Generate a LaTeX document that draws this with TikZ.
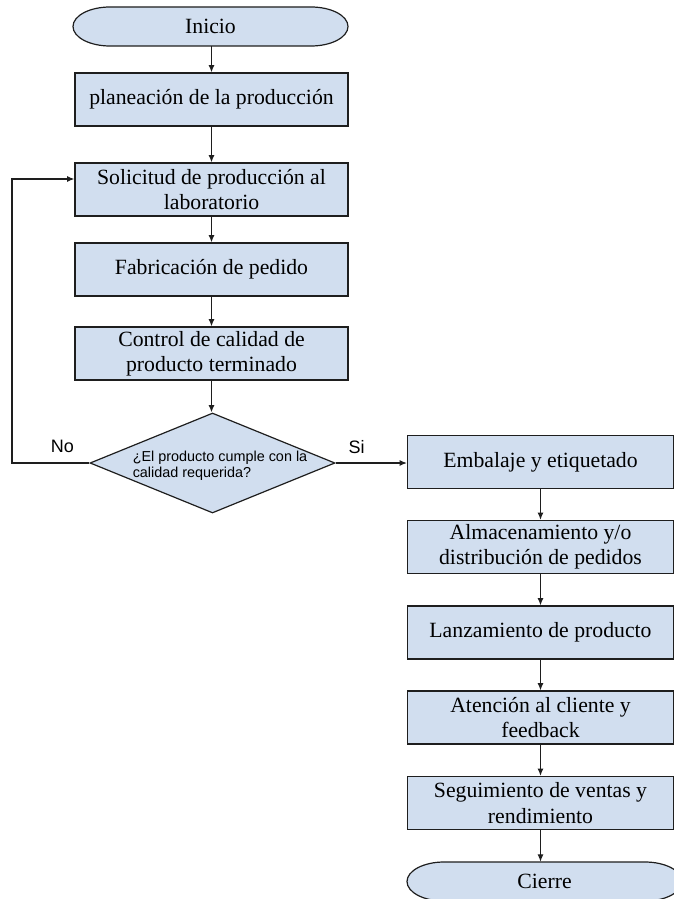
\documentclass[tikz,border=0pt]{standalone}
\usepackage{fontspec}
\setmainfont{Liberation Serif}
\newfontfamily\arialf{Liberation Sans}
\usetikzlibrary{shapes.geometric,arrows.meta,calc}
\definecolor{boxfill}{RGB}{209,222,239}
\definecolor{edge}{RGB}{30,30,30}
\tikzset{
  x=0.75pt, y=-0.75pt,
  stepbox/.style={draw=edge, fill=boxfill, line width=0.9pt, rectangle, inner sep=0pt,
     minimum height=39.75pt, align=center, font=\fontsize{16.3}{19}\selectfont},
  leftbox/.style={stepbox, minimum width=204.75pt},
  rightbox/.style={stepbox, minimum width=199.5pt},
  termtext/.style={inner sep=0pt, minimum height=29.25pt, minimum width=206.25pt,
     font=\fontsize{16.3}{19}\selectfont},
  termshape/.style={draw=edge, fill=boxfill, line width=0.9pt},
  decision/.style={draw=edge, fill=boxfill, line width=0.9pt, diamond, inner sep=0pt,
     minimum width=183.75pt, minimum height=75pt},
  arr/.style={draw=edge, line width=0.85pt, -{Latex[length=5.5pt,width=4.5pt]}},
  lbl/.style={font=\arialf\fontsize{13.5}{16}\selectfont, inner sep=0pt}
}
\begin{document}
\begin{tikzpicture}
\useasboundingbox (0,0) rectangle (674,899);
\clip (0,0) rectangle (674,899);
\fill[white] (0,0) rectangle (674,899);

% Inicio terminal
\path[termshape] (110,7) -- (311,7)
  arc[start angle=90, end angle=-90, x radius=27.75pt, y radius=14.625pt]
  -- (110,46)
  arc[start angle=270, end angle=90, x radius=27.75pt, y radius=14.625pt] -- cycle;
\node[termtext] (ini) at (210.5,26.5) {Inicio};

% left column
\node[leftbox] (plan) at (211.5,99.5) {planeación de la producción};
\node[leftbox] (sol)  at (211.5,189.5) {Solicitud de producción al\\laboratorio};
\node[leftbox] (fab)  at (211.5,269.5) {Fabricación de pedido};
\node[leftbox] (ctrl) at (211.5,353.5) {Control de calidad de\\producto terminado};

% decision
\node[decision] (dia) at (212.5,463) {};
\node[inner sep=0pt, align=left, font=\arialf\fontsize{10.8}{12}\selectfont] (dtext) at (220,466)
  {¿El producto cumple con la\\calidad requerida?};

% right column
\node[rightbox] (emb) at (540.5,462) {Embalaje y etiquetado};
\node[rightbox] (alm) at (540.5,547) {Almacenamiento y/o\\distribución de pedidos};
\node[rightbox] (lan) at (540.5,632.5) {Lanzamiento de producto};
\node[rightbox] (ate) at (540.5,717.5) {Atención al cliente y\\feedback};
\node[rightbox] (seg) at (540.5,803) {Seguimiento de ventas y\\rendimiento};

% Cierre terminal
\path[termshape] (444,862) -- (645,862)
  arc[start angle=90, end angle=-90, x radius=27.75pt, y radius=14.625pt]
  -- (444,901)
  arc[start angle=270, end angle=90, x radius=27.75pt, y radius=14.625pt] -- cycle;
\node[termtext] (cie) at (544.5,881.5) {Cierre};

% labels
\node[lbl] (no) at (62.5,446) {No};
\node[lbl] (si) at (356.5,447) {Si};

% connectors
\draw[arr] (ini.south -| plan.north) -- (plan.north);
\draw[arr] (plan) -- (sol);
\draw[arr] (sol) -- (fab);
\draw[arr] (fab) -- (ctrl);
\draw[arr] (ctrl) -- (dia.north -| ctrl.south);
\coordinate (fb) at (12,179);
\draw[arr] (dia.west) -| (fb) -- (fb -| sol.west);
\draw[arr] (dia.east) -- (dia.east -| emb.west);
\draw[arr] (emb) -- (alm);
\draw[arr] (alm) -- (lan);
\draw[arr] (lan) -- (ate);
\draw[arr] (ate) -- (seg);
\draw[arr] (seg.south) -- (seg.south |- cie.north);
\end{tikzpicture}
\end{document}
